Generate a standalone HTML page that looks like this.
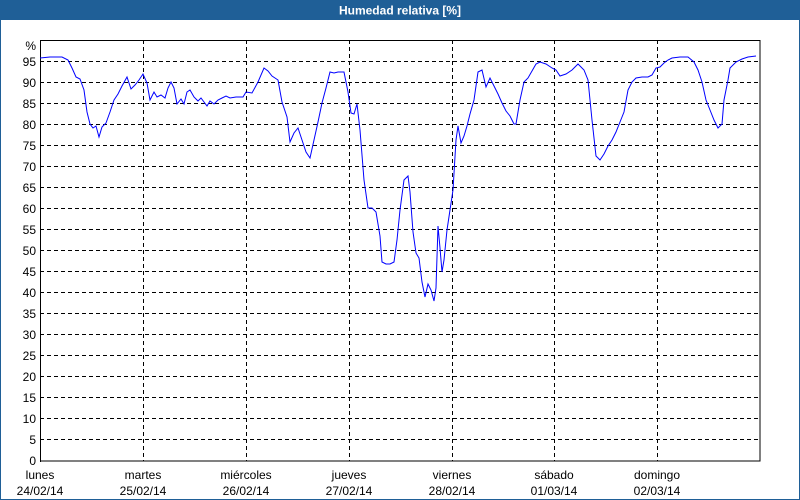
<!DOCTYPE html>
<html><head><meta charset="utf-8"><style>
html,body{margin:0;padding:0;background:#fff}
svg{display:block;font-family:"Liberation Sans",sans-serif}
</style></head><body>
<svg width="800" height="500" viewBox="0 0 800 500">
<rect x="0" y="0" width="800" height="500" fill="#fff"/>
<rect x="0.5" y="0.5" width="799" height="499" fill="none" stroke="#1f5f97" stroke-width="1"/>
<rect x="0" y="0" width="800" height="20" fill="#1f5f97"/>
<text x="400" y="14.5" fill="#fff" font-size="12" font-weight="bold" text-anchor="middle">Humedad relativa [%]</text>
<g stroke="#000" stroke-width="1" stroke-dasharray="4,3" fill="none">
<path d="M40 61.5H760M40 82.5H760M40 103.5H760M40 124.5H760M40 145.5H760M40 166.5H760M40 187.5H760M40 208.5H760M40 229.5H760M40 250.5H760M40 271.5H760M40 292.5H760M40 313.5H760M40 334.5H760M40 355.5H760M40 376.5H760M40 397.5H760M40 418.5H760M40 439.5H760"/>
<path d="M143.5 40V461M246.5 40V461M349.5 40V461M452.5 40V461M554.5 40V461M657.5 40V461"/>
</g>
<rect x="40.5" y="40.5" width="719.5" height="420.5" fill="none" stroke="#000" stroke-width="1"/>
<path d="M40 461.5h1" stroke="#000"/>
<g font-size="12" fill="#000" text-anchor="end">
<text x="36" y="50">%</text>
<text x="36" y="66">95</text><text x="36" y="87">90</text><text x="36" y="108">85</text><text x="36" y="129">80</text><text x="36" y="150">75</text><text x="36" y="171">70</text><text x="36" y="192">65</text><text x="36" y="213">60</text><text x="36" y="234">55</text><text x="36" y="255">50</text><text x="36" y="276">45</text><text x="36" y="297">40</text><text x="36" y="318">35</text><text x="36" y="339">30</text><text x="36" y="360">25</text><text x="36" y="381">20</text><text x="36" y="402">15</text><text x="36" y="423">10</text><text x="36" y="444">5</text><text x="36" y="465">0</text>
</g>
<g font-size="12" fill="#000" text-anchor="middle">
<text x="40" y="479">lunes</text><text x="40" y="495">24/02/14</text>
<text x="143" y="479">martes</text><text x="143" y="495">25/02/14</text>
<text x="246" y="479">miércoles</text><text x="246" y="495">26/02/14</text>
<text x="349" y="479">jueves</text><text x="349" y="495">27/02/14</text>
<text x="452" y="479">viernes</text><text x="452" y="495">28/02/14</text>
<text x="554" y="479">sábado</text><text x="554" y="495">01/03/14</text>
<text x="657" y="479">domingo</text><text x="657" y="495">02/03/14</text>
</g>
<polyline fill="none" stroke="#0000ff" stroke-width="1" points="40,58 50,57 62,57 68,60 72,68 76,77 80,79 84,90 87,112 90,124 93,128 96,126 99,137 102,127 106,123 110,112 114,100 118,94 122,86 127,77 131,89 135,85 139,80 143,74 147,83 150,100 154,92 157,97 161,95 165,98 168,88 171,82 174,88 177,104 181,99 184,104 187,92 190,90 194,97 198,101 201,98 204,102 207,106 210,101 214,104 218,100 222,98 226,96 230,98 236,97 243,97 246,92 252,93 258,82 264,68 268,71 272,76 278,80 282,102 287,117 290,142 294,133 298,128 302,140 306,152 310,158 314,140 318,122 322,103 326,88 330,72 334,73 338,72 344,72 348,92 351,113 354,114 357,104 360,130 364,180 368,208 372,208 376,212 380,236 382,262 386,264 390,264 394,262 397,240 400,210 404,180 408,176 410,192 413,232 416,253 419,258 422,282 425,297 428,284 431,290 434,301 436,288 438,226 440,248 442,272 444,260 447,230 450,210 453,190 456,140 458,126 461,143 464,136 467,126 470,114 474,100 478,72 482,70 486,87 490,78 494,86 498,94 502,103 506,111 510,116 514,124 516,124 520,100 524,82 528,78 532,71 536,64 540,62 546,64 552,68 556,70 560,76 566,74 572,70 578,64 584,70 588,80 592,120 596,156 600,160 604,154 608,146 612,140 616,132 620,122 624,112 628,90 632,82 636,78 642,77 648,77 652,75 656,68 660,67 664,63 668,60 672,58 680,57 688,57 694,62 698,70 702,82 706,100 710,110 714,120 718,128 722,124 724,100 728,80 730,68 736,62 742,59 748,57 756,56"/>
</svg>
</body></html>
